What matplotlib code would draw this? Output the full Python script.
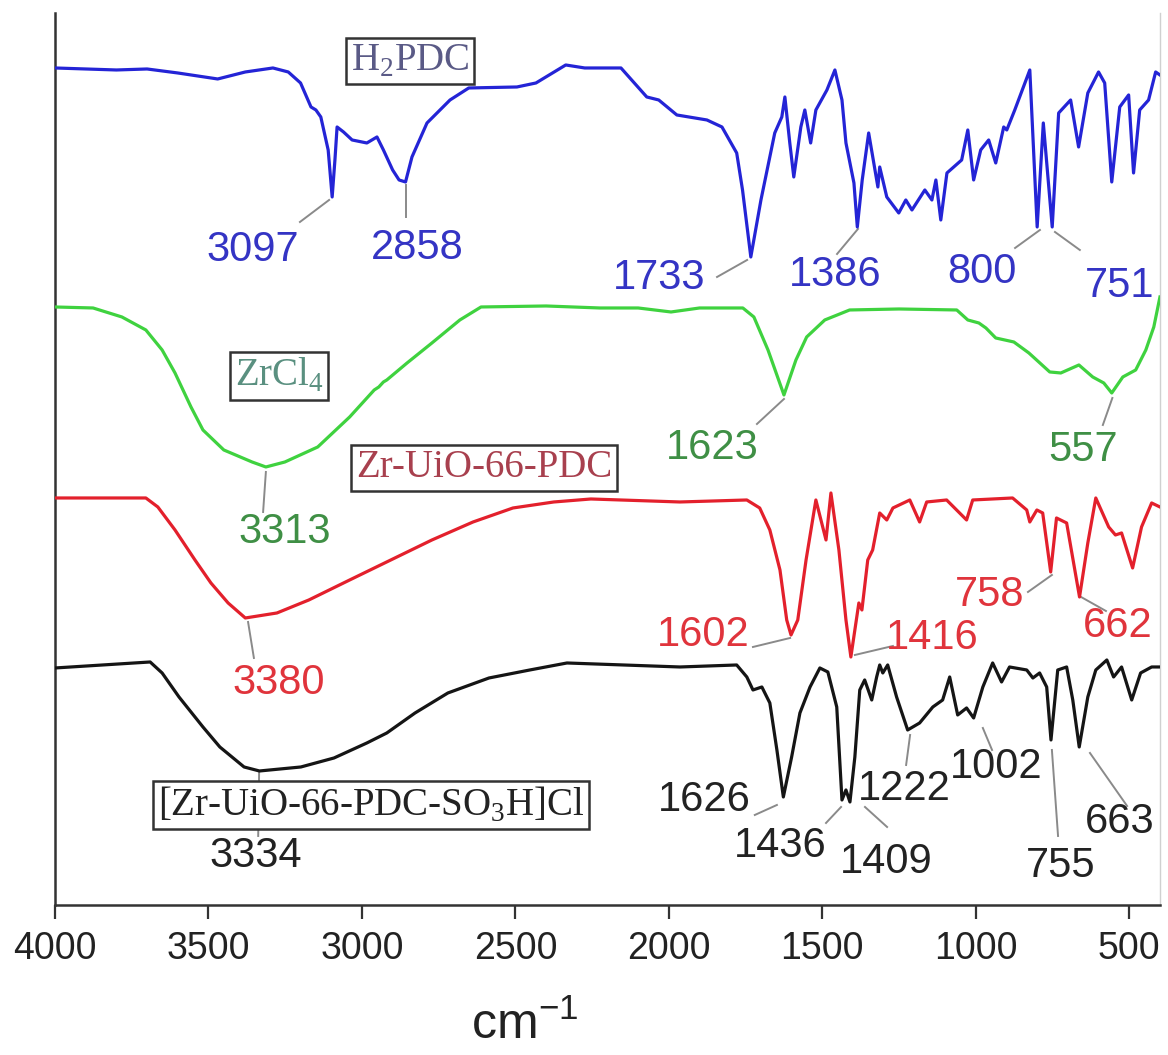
import numpy as np
import matplotlib.pyplot as plt

plt.rcParams['font.family'] = ['Liberation Sans', 'DejaVu Sans']
plt.rcParams['mathtext.fontset'] = 'custom'
plt.rcParams['mathtext.rm'] = 'Liberation Serif'
plt.rcParams['mathtext.sf'] = 'Liberation Sans'

# FTIR spectra: wavenumber (cm-1) and offset signal
# (signal axis is drawn top-down, bigger value = lower on the plot)
h2pdc_wn = [4000, 3900, 3800, 3700, 3600, 3470, 3380, 3290, 3240, 3200, 3166, 3150, 3134, 3110, 3097,
            3088, 3081, 3060, 3032, 2984, 2951, 2930, 2900, 2879, 2858, 2837, 2788, 2713, 2652, 2495,
            2433, 2336, 2274, 2156, 2072, 2033, 1974, 1876, 1827, 1779, 1760, 1733, 1700, 1655, 1632,
            1622, 1606, 1593, 1570, 1557, 1538, 1521, 1485, 1459, 1436, 1423, 1397, 1386, 1370, 1349,
            1319, 1313, 1290, 1251, 1228, 1208, 1166, 1143, 1130, 1114, 1094, 1046, 1026, 1007, 984,
            958, 935, 909, 899, 873, 824, 800, 780, 751, 730, 691, 665, 635, 600, 580, 557, 531, 502,
            486, 466, 437, 414, 400]
h2pdc_y = [68, 69, 70, 69, 73, 79, 72, 68, 72, 83, 107, 110, 117, 150, 197,
           160, 127, 132, 140, 143, 137, 150, 170, 180, 182, 157, 123, 100, 88, 87,
           83, 65, 68, 68, 97, 100, 115, 120, 127, 153, 190, 257, 200, 133, 117,
           97, 143, 177, 127, 110, 143, 110, 90, 70, 100, 143, 183, 227, 180, 133,
           187, 167, 197, 213, 200, 210, 190, 200, 180, 220, 173, 160, 130, 180, 150,
           140, 163, 127, 130, 110, 70, 227, 123, 227, 113, 100, 147, 93, 72, 83, 182, 107, 95,
           173, 110, 100, 72, 75]

zrcl4_wn = [4000, 3876, 3782, 3704, 3651, 3609, 3557, 3518, 3450, 3358, 3313, 3251, 3144, 3040, 2960,
            2945, 2930, 2919, 2853, 2772, 2681, 2612, 2400, 2225, 2100, 1993, 1900, 1759, 1723, 1677,
            1625, 1586, 1551, 1492, 1411, 1250, 1062, 1026, 990, 967, 935, 876, 827, 759, 723, 664,
            619, 583, 557, 521, 479, 446, 420, 400]
zrcl4_y = [307, 308, 317, 330, 350, 373, 407, 430, 450, 462, 467, 462, 447, 417, 390,
           387, 382, 380, 363, 343, 320, 307, 306, 308, 308, 312, 308, 308, 317, 350,
           395, 360, 337, 320, 310, 309, 310, 320, 323, 328, 338, 342, 353, 372, 373, 365,
           377, 383, 393, 377, 370, 350, 327, 297]

uio_wn = [4000, 3704, 3665, 3609, 3544, 3492, 3436, 3380, 3277, 3173, 3040, 2906, 2772, 2638, 2508,
          2375, 2254, 1964, 1746, 1704, 1671, 1638, 1616, 1602, 1580, 1553, 1521, 1488, 1472, 1446,
          1423, 1407, 1381, 1371, 1352, 1336, 1313, 1290, 1270, 1215, 1183, 1160, 1095, 1030, 1010,
          880, 834, 824, 801, 782, 756, 737, 704, 662, 635, 609, 567, 545, 525, 489, 460, 427, 400]
uio_y = [498, 498, 507, 530, 560, 583, 603, 618, 613, 600, 580, 560, 540, 522, 508,
         502, 499, 502, 500, 508, 530, 570, 620, 635, 620, 560, 500, 540, 493, 550,
         620, 657, 603, 610, 560, 550, 513, 520, 508, 500, 522, 502, 500, 520, 500,
         498, 510, 522, 510, 513, 572, 518, 523, 597, 543, 498, 527, 535, 533, 568, 527, 503, 507]

so3h_wn = [4000, 3690, 3651, 3596, 3518, 3463, 3384, 3334, 3199, 3091, 2984, 2919, 2827, 2720, 2586,
           2453, 2332, 1964, 1779, 1746, 1726, 1697, 1671, 1648, 1627, 1600, 1573, 1540, 1508, 1482,
           1453, 1436, 1423, 1410, 1394, 1378, 1362, 1339, 1323, 1313, 1303, 1287, 1258, 1222, 1183,
           1140, 1108, 1085, 1059, 1030, 1007, 977, 945, 916, 890, 834, 814, 792, 769, 755, 733,
           704, 684, 663, 635, 609, 573, 551, 525, 492, 463, 427, 400]
so3h_y = [668, 662, 673, 697, 727, 747, 767, 771, 767, 758, 743, 733, 713, 693, 678,
          670, 663, 667, 665, 677, 690, 687, 703, 750, 797, 757, 713, 687, 668, 672,
          707, 800, 790, 802, 757, 690, 680, 700, 677, 665, 673, 665, 697, 730, 723,
          707, 700, 677, 715, 708, 718, 687, 663, 682, 667, 670, 678, 673, 687, 740, 670,
          667, 700, 747, 697, 670, 660, 677, 667, 700, 673, 667, 667]

# peak labels: text, text position, leader line start and end
h2pdc_peaks = ['3097', '2858', '1733', '1386', '800', '751']
h2pdc_text = [(3355, 250), (2821, 248), (2032, 278), (1459, 275), (980, 272), (530, 286)]
h2pdc_lead = [((3107, 200), (3202, 222)), ((2857, 185), (2857, 217)), ((1745, 260), (1843, 277)),
              ((1384, 229), (1452, 254)), ((791, 230), (872, 248)), ((742, 232), (661, 250))]

zrcl4_peaks = ['3313', '1623', '557']
zrcl4_text = [(3251, 532), (1859, 448), (651, 450)]
zrcl4_lead = [((3313, 472), (3322, 512)), ((1625, 399), (1713, 424)), ((555, 398), (586, 425))]

uio_peaks = ['3380', '1602', '1416', '758', '662']
uio_text = [(3270, 683), (1889, 635), (1143, 638), (954, 595), (537, 626)]
uio_lead = [((3371, 622), (3352, 658)), ((1605, 638), (1726, 647)), ((1394, 655), (1270, 646)),
            ((752, 575), (830, 592)), ((657, 597), (576, 611))]

so3h_peaks = ['3334', '1626', '1436', '1409', '1222', '1002', '755', '663']
so3h_text = [(3345, 856), (1886, 800), (1638, 846), (1293, 862), (1234, 789), (934, 767),
             (722, 866), (530, 822)]
so3h_lead = [((3335, 772), (3338, 836)), ((1648, 805), (1720, 815)), ((1439, 807), (1488, 823)),
             ((1361, 807), (1289, 827)), ((1214, 735), (1227, 765)), ((977, 728), (947, 750)),
             ((752, 750), (732, 836)), ((628, 753), (507, 806))]

series = [
    (h2pdc_wn, h2pdc_y, '#2424d6', '#3434c4', h2pdc_peaks, h2pdc_text, h2pdc_lead,
     r'H$_{\mathrm{2}}$PDC', (2843, 61), '#5a5a86'),
    (zrcl4_wn, zrcl4_y, '#3fd23f', '#3f8f45', zrcl4_peaks, zrcl4_text, zrcl4_lead,
     r'ZrCl$_{\mathrm{4}}$', (3270, 376), '#5a9080'),
    (uio_wn, uio_y, '#e3202c', '#e0343c', uio_peaks, uio_text, uio_lead,
     'Zr-UiO-66-PDC', (2602, 468), '#a8404e'),
    (so3h_wn, so3h_y, '#151515', '#222222', so3h_peaks, so3h_text, so3h_lead,
     r'[Zr-UiO-66-PDC-SO$_{\mathrm{3}}$H]Cl', (2970, 805), '#222222'),
]

fig = plt.figure(figsize=(11.68, 10.55), dpi=100)
ax = fig.add_axes([0.0471, 0.1422, 0.946, 0.8455])

for wn, y, col, tcol, peaks, tpos, leads, name, npos, ncol in series:
    ax.plot(wn, y, color=col, lw=2.3, zorder=3)
    for lab, (tx, ty), ((x0, y0), (x1, y1)) in zip(peaks, tpos, leads):
        ax.plot([x0, x1], [y0, y1], color='#8a8a8a', lw=1.4, zorder=2)
        ax.text(tx, ty, lab, color=tcol, fontsize=30, ha='center', va='center', zorder=4)
    ax.text(npos[0], npos[1], name, color=ncol, fontsize=28, family='Liberation Serif',
            ha='center', va='center', zorder=5,
            bbox=dict(boxstyle='square,pad=0.12', facecolor='white', edgecolor='#333333', lw=1.8))

ax.set_xlim(4000, 400)
ax.set_ylim(905, 13)
ax.set_xticks([4000, 3500, 3000, 2500, 2000, 1500, 1000, 500])
ax.set_yticks([])
ax.tick_params(axis='x', direction='out', length=10, width=1.6, labelsize=27, pad=9,
               color='#333333', labelcolor='#222222')
for s in ['left', 'bottom']:
    ax.spines[s].set_linewidth(1.8)
    ax.spines[s].set_color('#333333')
ax.spines['top'].set_visible(False)
ax.spines['right'].set_color('#d0d0d0')
ax.spines['right'].set_linewidth(1.0)

ax.set_xlabel(r'cm$^{\mathsf{-1}}$', fontsize=36, color='#222222')
ax.xaxis.set_label_coords(0.425, -0.135)
ax.xaxis.label.set_va('center')

fig.savefig('out.png', dpi=100, facecolor='white')
